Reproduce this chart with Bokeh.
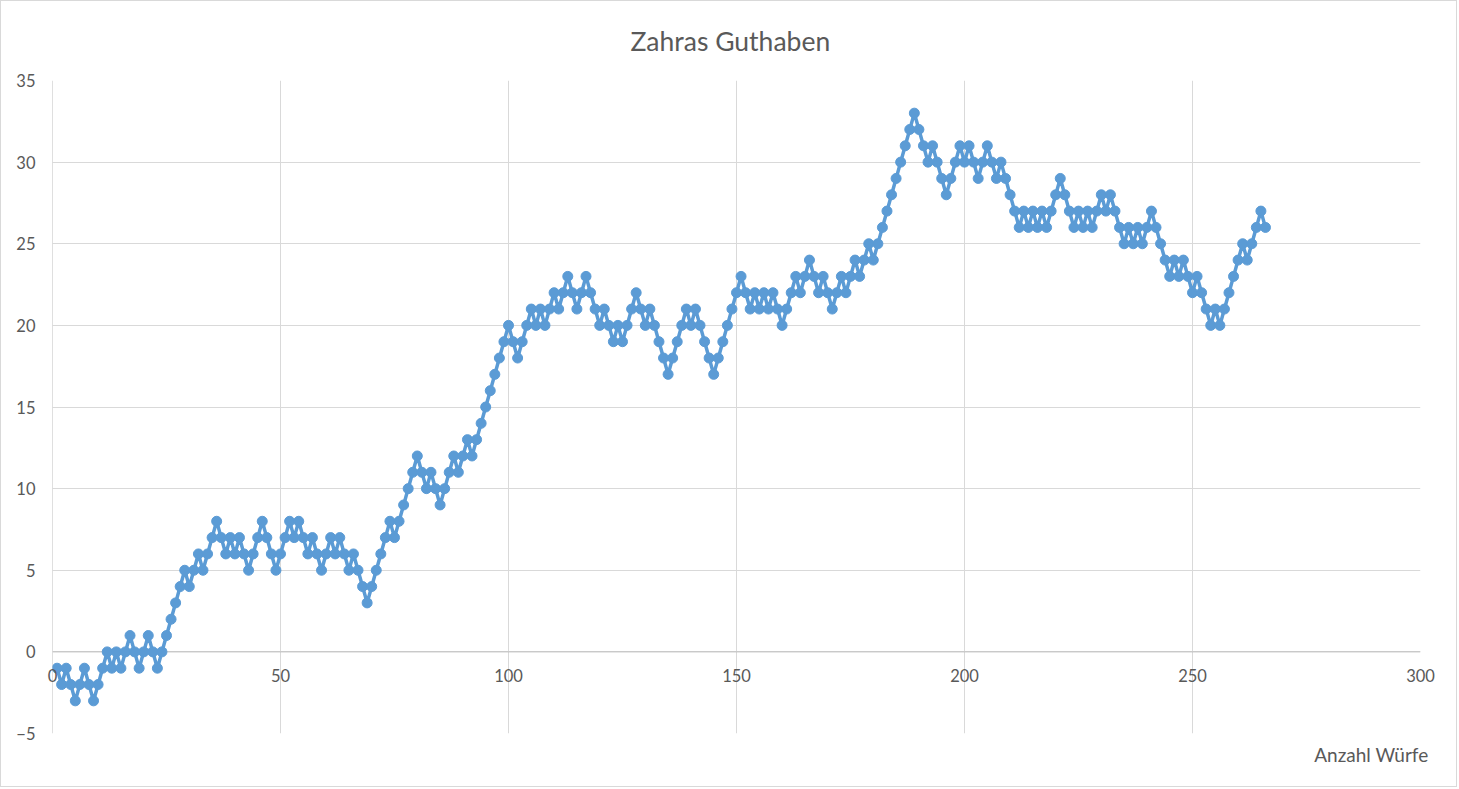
from bokeh.plotting import figure
from bokeh.models import FixedTicker, Title, Range1d, Span
from bokeh.embed import file_html
from bokeh.resources import INLINE

guthaben = [
    -1, -2, -1, -2, -3, -2, -1, -2, -3, -2,
    -1, 0, -1, 0, -1, 0, 1, 0, -1, 0,
    1, 0, -1, 0, 1, 2, 3, 4, 5, 4,
    5, 6, 5, 6, 7, 8, 7, 6, 7, 6,
    7, 6, 5, 6, 7, 8, 7, 6, 5, 6,
    7, 8, 7, 8, 7, 6, 7, 6, 5, 6,
    7, 6, 7, 6, 5, 6, 5, 4, 3, 4,
    5, 6, 7, 8, 7, 8, 9, 10, 11, 12,
    11, 10, 11, 10, 9, 10, 11, 12, 11, 12,
    13, 12, 13, 14, 15, 16, 17, 18, 19, 20,
    19, 18, 19, 20, 21, 20, 21, 20, 21, 22,
    21, 22, 23, 22, 21, 22, 23, 22, 21, 20,
    21, 20, 19, 20, 19, 20, 21, 22, 21, 20,
    21, 20, 19, 18, 17, 18, 19, 20, 21, 20,
    21, 20, 19, 18, 17, 18, 19, 20, 21, 22,
    23, 22, 21, 22, 21, 22, 21, 22, 21, 20,
    21, 22, 23, 22, 23, 24, 23, 22, 23, 22,
    21, 22, 23, 22, 23, 24, 23, 24, 25, 24,
    25, 26, 27, 28, 29, 30, 31, 32, 33, 32,
    31, 30, 31, 30, 29, 28, 29, 30, 31, 30,
    31, 30, 29, 30, 31, 30, 29, 30, 29, 28,
    27, 26, 27, 26, 27, 26, 27, 26, 27, 28,
    29, 28, 27, 26, 27, 26, 27, 26, 27, 28,
    27, 28, 27, 26, 25, 26, 25, 26, 25, 26,
    27, 26, 25, 24, 23, 24, 23, 24, 23, 22,
    23, 22, 21, 20, 21, 20, 21, 22, 23, 24,
    25, 24, 25, 26, 27, 26,
]
wuerfe = list(range(1, len(guthaben) + 1))

x_ticks = [0, 50, 100, 150, 200, 250, 300]
y_ticks = [-5, 0, 5, 10, 15, 20, 25, 30, 35]
title_text = "Zahras Guthaben"
x_label = "Anzahl Würfe"

TEXT = "#595959"
GRID = "#d9d9d9"
AXIS = "#bfbfbf"
BLUE = "#5b9bd5"
FONT = "Lato"

p = figure(
    width=1457, height=787,
    x_range=Range1d(0, 300), y_range=Range1d(-5, 35),
    output_backend="svg", toolbar_location=None,
    min_border_left=51, min_border_right=38,
    min_border_top=79, min_border_bottom=55,
)
p.styles = {"border": "1px solid #d9d9d9"}
p.outline_line_color = None
p.background_fill_color = "white"
p.border_fill_color = "white"

p.title.text = title_text
p.title.align = "left"
p.title.vertical_align = "top"
p.title.text_font = FONT
p.title.text_font_size = "26.5px"
p.title.text_font_style = "normal"
p.title.text_color = TEXT
p.title.standoff = 43
p.title.offset = 578

p.add_layout(Title(text=x_label, align="right", text_font=FONT,
                   text_font_size="19px", text_font_style="normal",
                   text_color=TEXT, standoff=15, offset=-8), "below")

# grid
p.xgrid.ticker = FixedTicker(ticks=x_ticks)
p.ygrid.ticker = FixedTicker(ticks=y_ticks)
for g in (p.xgrid, p.ygrid):
    g.grid_line_color = GRID
    g.grid_line_width = 1

p.add_layout(Span(location=0, dimension="width", line_color=AXIS,
                  line_width=1, level="underlay"))
p.add_layout(Span(location=0, dimension="height", line_color=AXIS,
                  line_width=1, level="underlay"))

# axes (x labels sit just under the zero line, as in the original)
p.xaxis.ticker = FixedTicker(ticks=x_ticks)
p.yaxis.ticker = FixedTicker(ticks=y_ticks)
for ax in (p.xaxis, p.yaxis):
    ax.axis_line_color = None
    ax.major_tick_out = 0
    ax.major_tick_in = 0
    ax.minor_tick_out = 0
    ax.minor_tick_in = 0
    ax.major_label_text_font = FONT
    ax.major_label_text_font_size = "16.5px"
    ax.major_label_text_color = TEXT
p.xaxis.major_label_standoff = -65
p.yaxis.major_label_standoff = 17

p.line(wuerfe, guthaben, line_color=BLUE, line_width=3.5)
p.scatter(wuerfe, guthaben, size=10, fill_color=BLUE, line_color=BLUE)

open("out.html", "w").write(file_html(p, INLINE))
